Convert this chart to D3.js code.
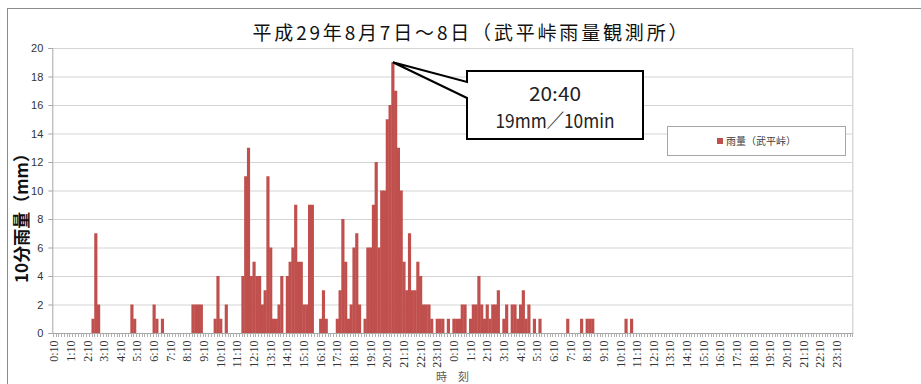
<!DOCTYPE html>
<html>
<head>
<meta charset="utf-8">
<script src="https://cdn.jsdelivr.net/npm/d3@7"></script>
<style>
  body { margin: 0; background: #fff; }
  svg { display: block; }
</style>
</head>
<body>
<div id="chart"></div>
<script>
const width = 921;
const height = 384;

// hourly tick labels, repeated for each of the 2 days (every 6th 10-min slot)
const hourLabels = ["0:10","1:10","2:10","3:10","4:10","5:10","6:10","7:10","8:10","9:10","10:10","11:10",
  "12:10","13:10","14:10","15:10","16:10","17:10","18:10","19:10","20:10","21:10","22:10","23:10"];
const days = ["8/7", "8/8"];

// 10-minute rainfall (mm), 8/7 0:10 .. 8/9 0:00, one row = 4 hours
const rain = [
  0,0,0,0,0,0,0,0,0,0,0,0,0,0,1,7,2,0,0,0,0,0,0,0,
  0,0,0,0,2,1,0,0,0,0,0,0,2,1,0,1,0,0,0,0,0,0,0,0,
  0,0,2,2,2,2,0,0,0,0,1,4,1,0,2,0,0,0,0,0,4,11,13,4,
  5,4,4,2,3,11,6,1,1,2,4,0,4,5,6,9,5,5,2,2,9,9,0,0,
  1,3,1,0,0,0,1,3,8,5,1,2,6,7,2,0,1,6,6,9,12,6,10,10,
  15,16,19,17,13,10,5,3,7,3,3,5,4,2,2,2,1,0,1,1,1,0,1,0,
  1,1,1,2,2,0,1,2,2,4,2,1,2,1,2,2,3,0,1,2,0,2,2,1,
  2,3,1,2,0,1,0,1,0,0,0,0,0,0,0,0,0,1,0,0,0,0,1,0,
  1,1,1,0,0,0,0,0,0,0,0,0,0,0,1,0,1,0,0,0,0,0,0,0,
  0,0,0,0,0,0,0,0,0,0,0,0,0,0,0,0,0,0,0,0,0,0,0,0,
  0,0,0,0,0,0,0,0,0,0,0,0,0,0,0,0,0,0,0,0,0,0,0,0,
  0,0,0,0,0,0,0,0,0,0,0,0,0,0,0,0,0,0,0,0,0,0,0,0
];

const yTicks = [0, 2, 4, 6, 8, 10, 12, 14, 16, 18, 20];
const titleText = "平成29年8月7日～8日（武平峠雨量観測所）";
const yTitle = "10分雨量（mm）";
const xTitle = "時　刻";
const seriesName = "雨量（武平峠）";
const peakNote = ["20:40", "19mm／10min"];

const slots = d3.range(rain.length);
const tickLabel = i => hourLabels[(i / 6) % 24];

const svg = d3.select('#chart').append('svg')
  .attr('width', width)
  .attr('height', height)
  .attr('viewBox', [0, 0, width, height]);

// outer chart frame (runs off the right and bottom edges)
svg.append('rect')
  .attr('x', 7.5).attr('y', 8.5)
  .attr('width', 1000).attr('height', 1000)
  .attr('fill', 'none').attr('stroke', '#8c8c8c');

const plot = { left: 52.8, right: 852.3, top: 48, bottom: 333 };

const x = d3.scaleBand().domain(slots).range([plot.left, plot.right]).padding(0);
const y = d3.scaleLinear().domain([0, 20]).range([plot.bottom, plot.top]);

// gridlines
svg.append('g').selectAll('line')
  .data(yTicks.filter(d => d > 0)).join('line')
  .attr('x1', plot.left).attr('x2', plot.right)
  .attr('y1', d => y(d) + 0.5).attr('y2', d => y(d) + 0.5)
  .attr('stroke', '#d4d4d4');

svg.append('line')
  .attr('x1', plot.right + 0.5).attr('x2', plot.right + 0.5)
  .attr('y1', plot.top).attr('y2', plot.bottom)
  .attr('stroke', '#c8c8c8');

// bars (gap width 0, slightly overlapped so neighbours merge)
svg.append('g').selectAll('rect')
  .data(slots.filter(i => rain[i] > 0)).join('rect')
  .attr('x', i => x(i) - 0.2)
  .attr('y', i => y(rain[i]))
  .attr('width', x.bandwidth() + 0.4)
  .attr('height', i => y(0) - y(rain[i]))
  .attr('fill', '#c0504d');

// y axis
const yAxis = svg.append('g').attr('transform', `translate(${plot.left - 0.5},0)`)
  .call(d3.axisLeft(y).tickValues(yTicks).tickSize(4).tickPadding(5));
yAxis.select('.domain').attr('stroke', '#a6a6a6');
yAxis.selectAll('.tick line').attr('stroke', '#a6a6a6');
yAxis.selectAll('.tick text')
  .attr('font-family', 'Liberation Sans, Arial, sans-serif')
  .attr('font-size', 11).attr('fill', '#333');

// x axis: a short tick at every 10-min slot, a label every hour
const xAxis = svg.append('g').attr('transform', `translate(0,${plot.bottom + 0.5})`);
xAxis.append('line')
  .attr('x1', plot.left).attr('x2', plot.right + 1)
  .attr('stroke', '#a6a6a6');
xAxis.selectAll('line.minor')
  .data(d3.range(rain.length + 1)).join('line')
  .attr('class', 'minor')
  .attr('x1', i => Math.round(plot.left + i * x.step()) + 0.5)
  .attr('x2', i => Math.round(plot.left + i * x.step()) + 0.5)
  .attr('y1', 0).attr('y2', 3.5)
  .attr('stroke', '#b0b0b0');
xAxis.selectAll('text')
  .data(slots.filter(i => i % 6 === 0)).join('text')
  .attr('transform', i => `translate(${x(i) + x.bandwidth() / 2 + 4},7) rotate(-90)`)
  .attr('text-anchor', 'end')
  .attr('font-family', 'Liberation Serif, Times New Roman, serif')
  .attr('font-size', 12).attr('fill', '#333')
  .text(tickLabel);

// titles
svg.append('text')
  .attr('x', 470).attr('y', 40)
  .attr('text-anchor', 'middle')
  .attr('font-family', 'Noto Sans CJK JP, sans-serif')
  .attr('font-size', 19).attr('fill', '#111')
  .attr('textLength', 435).attr('lengthAdjust', 'spacing')
  .text(titleText);

svg.append('text')
  .attr('transform', `translate(28,214) rotate(-90)`)
  .attr('text-anchor', 'middle')
  .attr('font-family', 'Noto Sans CJK JP, sans-serif')
  .attr('font-size', 17).attr('font-weight', 'bold').attr('fill', '#111')
  .text(yTitle);

svg.append('text')
  .attr('x', (plot.left + plot.right) / 2).attr('y', 381)
  .attr('text-anchor', 'middle')
  .attr('font-family', 'Noto Sans CJK JP, sans-serif')
  .attr('font-size', 11).attr('fill', '#595959')
  .text(xTitle);

// legend
const legend = svg.append('g').attr('transform', 'translate(667,126)');
legend.append('rect')
  .attr('x', 0.5).attr('y', 0.5).attr('width', 178).attr('height', 29)
  .attr('fill', '#fff').attr('stroke', '#a6a6a6');
legend.append('rect')
  .attr('x', 50).attr('y', 12).attr('width', 6).attr('height', 6)
  .attr('fill', '#c0504d');
legend.append('text')
  .attr('x', 59).attr('y', 19)
  .attr('font-family', 'Noto Sans CJK JP, sans-serif')
  .attr('font-size', 10).attr('fill', '#404040')
  .text(seriesName);

// callout pointing at the peak
const peakIdx = d3.maxIndex(rain);
const tipX = x(peakIdx) + x.bandwidth() / 2;
const tipY = y(rain[peakIdx]);
const box = { x0: 467, x1: 643, y0: 71, y1: 139 };
svg.append('path')
  .attr('d', `M${box.x0},${box.y0} H${box.x1} V${box.y1} H${box.x0} V98 L${tipX},${tipY} L${box.x0},82 Z`)
  .attr('fill', '#fff').attr('stroke', '#000').attr('stroke-width', 2)
  .attr('stroke-linejoin', 'miter');
svg.append('g').selectAll('text')
  .data(peakNote).join('text')
  .attr('x', (box.x0 + box.x1) / 2)
  .attr('y', (d, i) => 101 + i * 27)
  .attr('text-anchor', 'middle')
  .attr('font-family', 'Noto Sans CJK JP, sans-serif')
  .attr('font-size', 19).attr('fill', '#222')
  .attr('textLength', (d, i) => i === 0 ? 52 : 119)
  .attr('lengthAdjust', 'spacingAndGlyphs')
  .text(d => d);
</script>
</body>
</html>
